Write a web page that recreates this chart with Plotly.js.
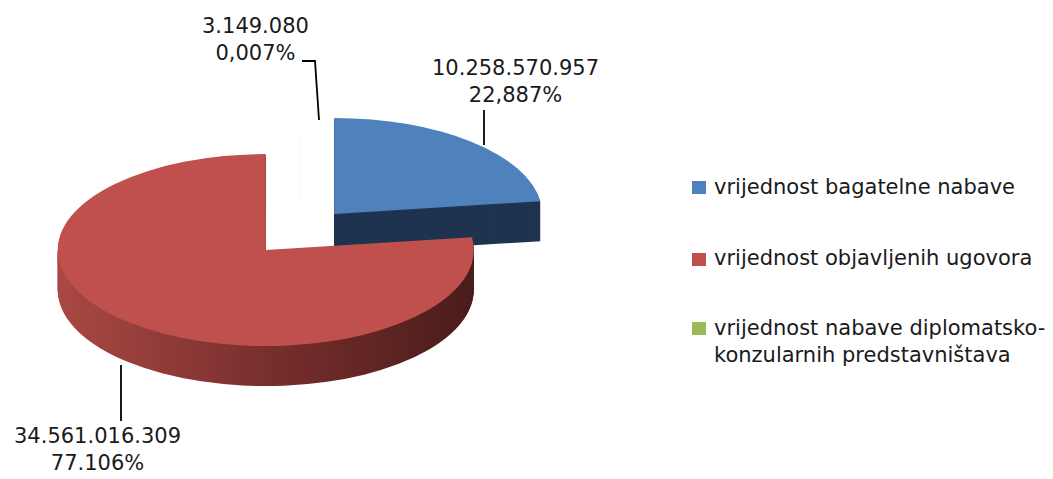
<!DOCTYPE html>
<html><head><meta charset="utf-8">
<script src="https://cdn.plot.ly/plotly-3.0.1.min.js"></script>
<style>html,body{margin:0;padding:0;background:#fff;overflow:hidden}#chart{width:1053px;height:479px}</style>
</head><body><div id="chart"></div>
<script>
// ---- data ----
const categories = ["vrijednost bagatelne nabave", "vrijednost objavljenih ugovora", "vrijednost nabave diplomatsko-konzularnih predstavništava"];
const values = [10258570957, 34561016309, 3149080];
const valueLabels = ["10.258.570.957", "34.561.016.309", "3.149.080"];
const percentLabels = ["22,887%", "77.106%", "0,007%"];
const legendLabels = ["vrijednost bagatelne nabave", "vrijednost objavljenih ugovora", "vrijednost nabave diplomatsko-<br>konzularnih predstavništava"];

// ---- style ----
const W = 1053, H = 479;
const topColors = ['#4F81BD', '#C0504D', '#9BBB59'];
const sideColors = ['#1F3450', '#7A2E2C', 'rgba(0,0,0,0)'];
const pulls = [0.25, 0.25, 0];
const DEPTH = 40;           // screen px of extrusion
const CX = 300, CY = 232;   // screen centre of unpulled top face
const RX = 208, RY = 96;    // screen ellipse radii

const px = x => x / W, py = y => 1 - y / H;

const traces = [];
for (let k = DEPTH; k >= 0; k--) {
  traces.push({
    type: 'pie', values: values, labels: categories, sort: false,
    direction: 'clockwise', rotation: 0, pull: pulls,
    marker: {colors: k === 0 ? topColors : sideColors, line: {width: 0}},
    textinfo: 'none', hoverinfo: 'none', showlegend: false,
    domain: {x: [0, 1], y: [0, 1]}, meta: k
  });
}

// label positions (screen px): centre x, middle y
const labelPos = [[515.5, 82], [97, 449], [255, 39]];
const annotations = values.map((v, i) => ({
  xref: 'paper', yref: 'paper', x: px(labelPos[i][0]), y: py(labelPos[i][1]),
  xanchor: 'center', yanchor: 'middle', align: 'center', showarrow: false,
  borderpad: 0,
  text: valueLabels[i] + '<br>' + percentLabels[i],
  font: {family: 'DejaVu Sans', size: 21, color: '#1a1a1a'}
}));

// legend
const legendY = [186.5, 258, 341.5];
const legendSq = [[181, 194], [253, 266], [322, 335]];
const shapes = [];
legendLabels.forEach((t, i) => {
  annotations.push({
    xref: 'paper', yref: 'paper', x: px(712), y: py(legendY[i]),
    xanchor: 'left', yanchor: 'middle', align: 'left', showarrow: false,
    text: t, font: {family: 'DejaVu Sans', size: 21, color: '#1a1a1a'}
  });
  shapes.push({type: 'rect', xref: 'paper', yref: 'paper',
    x0: px(692), x1: px(706), y0: py(legendSq[i][0]), y1: py(legendSq[i][1]),
    fillcolor: topColors[i], line: {width: 0}});
});

// leader lines
const leaders = [
  [[484, 110], [484, 145]],
  [[121, 365], [121, 421]],
  [[302, 61], [315, 61], [319, 120]]
];
leaders.forEach(pts => {
  shapes.push({type: 'path', xref: 'paper', yref: 'paper',
    path: pts.map((p, j) => (j ? 'L' : 'M') + px(p[0]) + ',' + py(p[1])).join(' '),
    line: {color: '#000', width: 1.8}});
});

const layout = {
  width: W, height: H, margin: {l: 0, r: 0, t: 0, b: 0},
  paper_bgcolor: '#fff', showlegend: false,
  font: {family: 'DejaVu Sans', size: 21, color: '#1a1a1a'},
  annotations: annotations, shapes: shapes
};

Plotly.newPlot('chart', traces, layout, {displayModeBar: false, staticPlot: true}).then(gd => {
  const cd0 = gd.calcdata[0][0];
  const R = cd0.r, cx = cd0.cx, cy = cd0.cy;
  const a = RX / R, d = RY / R;
  const layer = gd.querySelector('.pielayer');
  layer.setAttribute('transform', `matrix(${a},0,0,${d},${CX - a * cx},${CY - d * cy})`);
  const ns = 'http://www.w3.org/2000/svg';
  const svg = gd.querySelector('svg.main-svg');
  let defs = svg.querySelector('defs');
  if (!defs) { defs = document.createElementNS(ns, 'defs'); svg.insertBefore(defs, svg.firstChild); }
  const grad = document.createElementNS(ns, 'linearGradient');
  grad.setAttribute('id', 'redSide');
  grad.setAttribute('x1', '0'); grad.setAttribute('y1', '0');
  grad.setAttribute('x2', '1'); grad.setAttribute('y2', '0');
  [['0', '#AA4844'], ['0.5', '#782F2D'], ['1', '#4A1C1B']].forEach(s => {
    const st = document.createElementNS(ns, 'stop');
    st.setAttribute('offset', s[0]); st.setAttribute('stop-color', s[1]);
    grad.appendChild(st);
  });
  defs.appendChild(grad);
  const groups = layer.querySelectorAll('g.trace');
  groups.forEach((g, idx) => {
    const k = traces[idx].meta;
    g.setAttribute('transform', `translate(0,${k / d})`);
    if (k > 0) {
      const sl = g.querySelectorAll('g.slice');
      if (sl[1]) {
        const p = sl[1].querySelector('path.surface');
        if (p) p.style.fill = 'url(#redSide)';
      }
    }
  });
});
</script>
</body></html>
